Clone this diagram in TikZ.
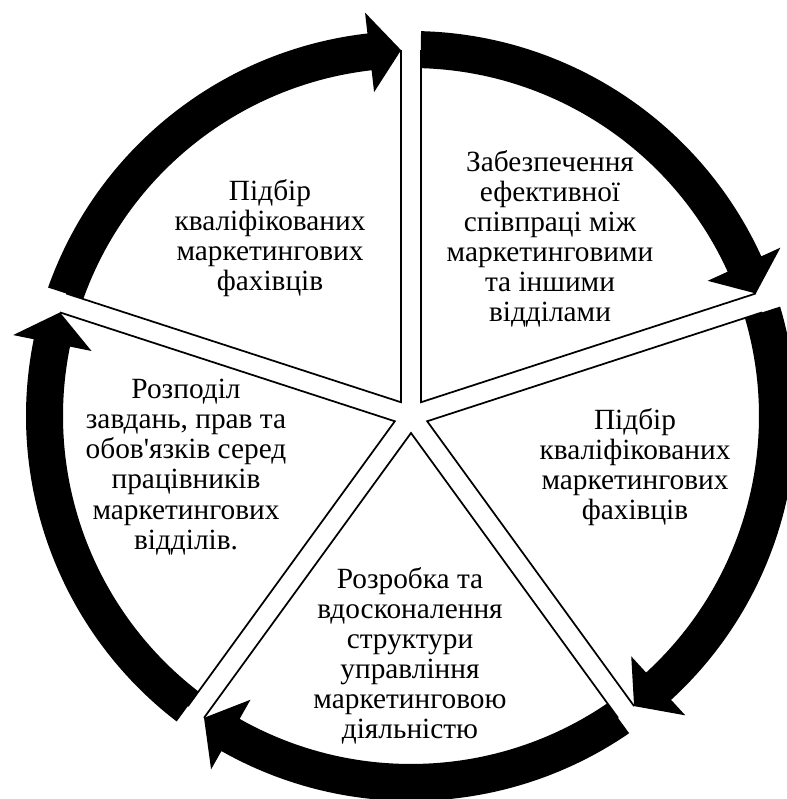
\documentclass[tikz,border=0pt]{standalone}
\usepackage{fontspec}
\setmainfont{Liberation Serif}

\begin{document}
\begin{tikzpicture}[x=0.75pt, y=0.75pt,
  edge/.style={line width=1.3pt, line join=miter},
  band/.style={fill=black},
  sectext/.style={align=center, font=\fontsize{22}{22.6}\selectfont, inner sep=0pt}]
\useasboundingbox (-411,-383) rectangle (375,416);

% Top-right sector
\draw[edge] (88.44:366) -- (54:17) -- (19.56:366);
\fill[band] (88.36:348) -- (88.51:385) arc[start angle=88.51, end angle=24.5, radius=385]
  -- (24.5:406) -- (19.56:366) -- (24.5:326) -- (24.5:348)
  arc[start angle=24.5, end angle=88.36, radius=348] -- cycle;

% Right sector
\draw[edge] (16.44:366) -- (-18:17) -- (-52.44:366);
\fill[band] (16.36:348) -- (16.51:385) arc[start angle=16.51, end angle=-47.5, radius=385]
  -- (-47.5:406) -- (-52.44:366) -- (-47.5:326) -- (-47.5:348)
  arc[start angle=-47.5, end angle=16.36, radius=348] -- cycle;

% Bottom sector
\draw[edge] (-55.56:366) -- (-90:17) -- (-124.44:366);
\fill[band] (-55.64:348) -- (-55.49:385) arc[start angle=-55.49, end angle=-119.5, radius=385]
  -- (-119.5:406) -- (-124.44:366) -- (-119.5:326) -- (-119.5:348)
  arc[start angle=-119.5, end angle=-55.64, radius=348] -- cycle;

% Left sector
\draw[edge] (-127.56:366) -- (-162:17) -- (-196.44:366);
\fill[band] (-127.64:348) -- (-127.49:385) arc[start angle=-127.49, end angle=-191.5, radius=385]
  -- (-191.5:406) -- (-196.44:366) -- (-191.5:326) -- (-191.5:348)
  arc[start angle=-191.5, end angle=-127.64, radius=348] -- cycle;

% Top-left sector
\draw[edge] (160.44:366) -- (126:17) -- (91.56:366);
\fill[band] (160.36:348) -- (160.51:385) arc[start angle=160.51, end angle=96.5, radius=385]
  -- (96.5:406) -- (91.56:366) -- (96.5:326) -- (96.5:348)
  arc[start angle=96.5, end angle=160.36, radius=348] -- cycle;

% Texts
\node[sectext] (pidbir1) at (-141,178) {Підбір\\кваліфікованих\\маркетингових\\фахівців};
\node[sectext] (spivpratsia) at (139,177) {Забезпечення\\ефективної\\співпраці між\\маркетинговими\\та іншими\\відділами};
\node[sectext] (pidbir2) at (224,-51) {Підбір\\кваліфікованих\\маркетингових\\фахівців};
\node[sectext] (rozrobka) at (-1,-240) {Розробка та\\вдосконалення\\структури\\управління\\маркетинговою\\діяльністю};
\node[sectext] (rozpodil) at (-225,-51) {Розподіл\\завдань, прав та\\обов\textquotesingle язків серед\\працівників\\маркетингових\\відділів.};

\end{tikzpicture}
\end{document}
